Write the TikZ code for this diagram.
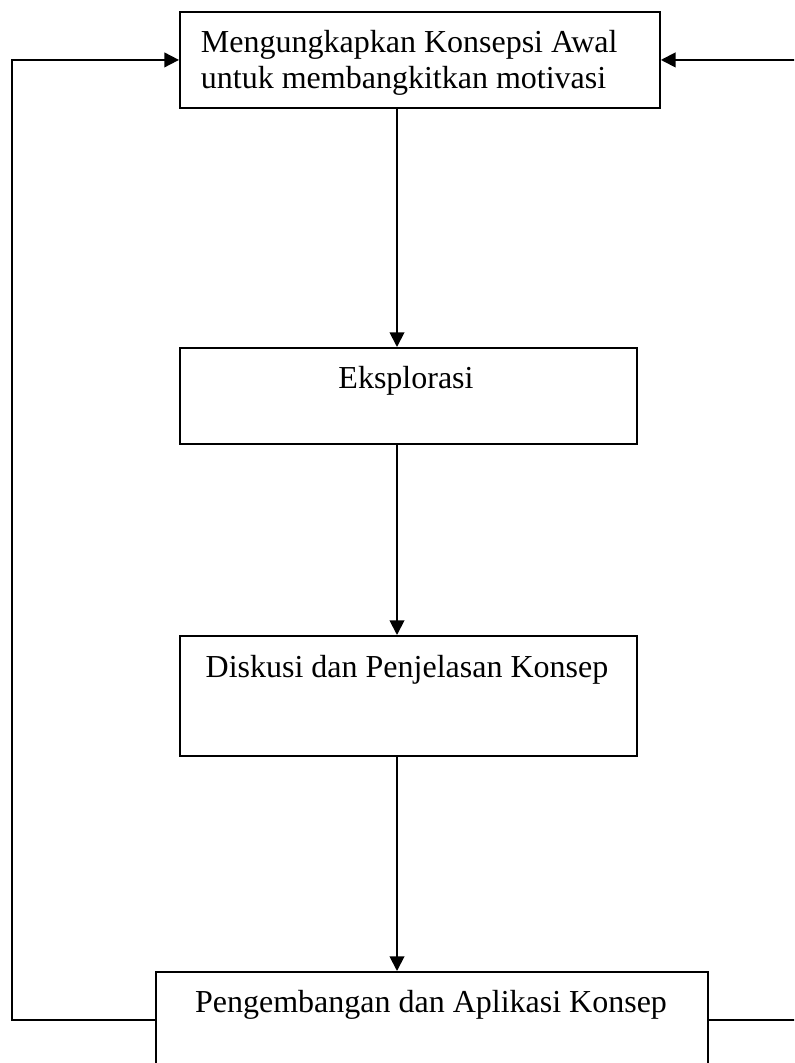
\documentclass[tikz,border=0pt]{standalone}
\usepackage{fontspec}
\setmainfont{Liberation Serif}
\usetikzlibrary{arrows.meta}

\begin{document}
\begin{tikzpicture}[x = 0.75pt, y = -0.75pt, line width = 1.4pt,
    box/.style = {draw, rectangle, inner sep = 0pt, anchor = north west},
    txt/.style = {inner sep = 0pt, font = \fontsize{24}{27.6}\selectfont},
    arr/.style = {-{Triangle[length = 11pt, width = 11pt]}}]

    \def\width  {794}
    \def\height {1063}

    % page
    \useasboundingbox (0, 0) rectangle (\width, \height);
    \clip (0, 0) rectangle (\width, \height);

    % lines of the loop
    \coordinate (axis)  at (397, 0);
    \coordinate (left)  at (12, 0);
    \coordinate (right) at (820, 0);

    % konsepsi awal
    \node [box, minimum width = 480 * 0.75pt, minimum height = 96 * 0.75pt] (awal) at (179, 11) {};
    \node [txt, anchor = base west, align = left] (tawal) at (200, 89)
        {Mengungkapkan Konsepsi Awal\\untuk membangkitkan motivasi};
    % eksplorasi
    \node [box, minimum width = 457 * 0.75pt, minimum height = 96 * 0.75pt] (eks) at (179, 347) {};
    \node [txt, anchor = base] (teks) at (406, 388) {Eksplorasi};
    % diskusi
    \node [box, minimum width = 457 * 0.75pt, minimum height = 120 * 0.75pt] (disk) at (179, 635) {};
    \node [txt, anchor = base] (tdisk) at (407, 677) {Diskusi dan Penjelasan Konsep};
    % pengembangan
    \node [box, minimum width = 552 * 0.75pt, minimum height = 96 * 0.75pt] (peng) at (155, 971) {};
    \node [txt, anchor = base] (tpeng) at (431, 1012) {Pengembangan dan Aplikasi Konsep};

    % arrows down
    \draw [arr] (awal.south -| axis) -- (eks.north -| axis);
    \draw [arr] (eks.south -| axis)  -- (disk.north -| axis);
    \draw [arr] (disk.south -| axis) -- (peng.north -| axis);

    % back to the start
    \draw [arr] (peng.west) -- (peng.west -| left) |- (awal.west);
    \draw [arr] (peng.east) -- (peng.east -| right) |- (awal.east);

\end{tikzpicture}
\end{document}
